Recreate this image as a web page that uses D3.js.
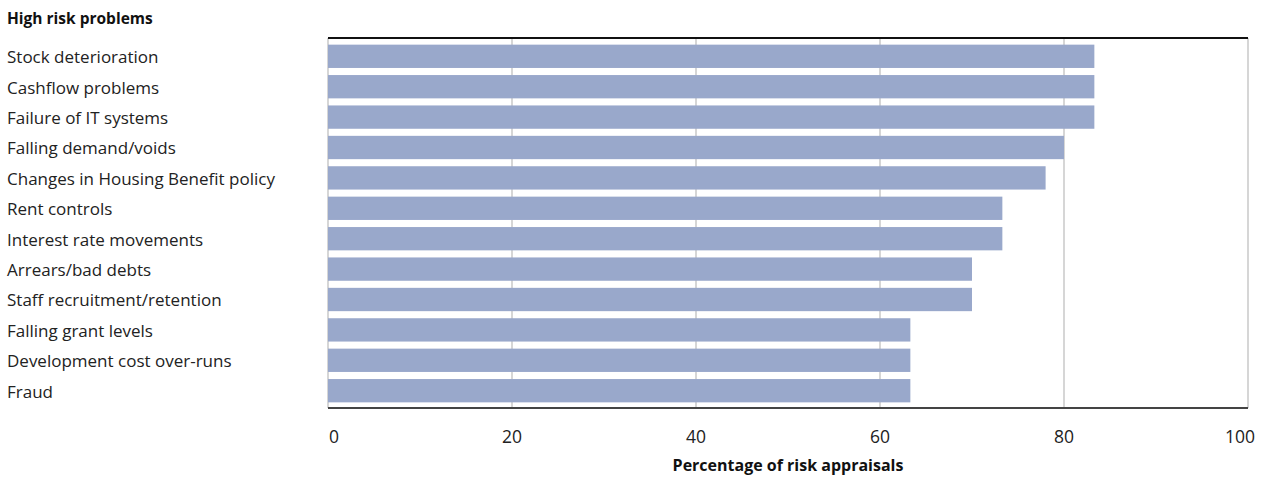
<!DOCTYPE html>
<html>
<head>
<meta charset="utf-8">
<script src="https://cdn.jsdelivr.net/npm/d3@7"></script>
<style>
  html, body { margin: 0; padding: 0; background: #fff; }
  svg { display: block; font-family: "Open Sans", "Noto Sans", sans-serif; }
</style>
</head>
<body>
<svg id="chart" width="1270" height="477"></svg>
<script>
// High risk problems, share of risk appraisals (%)
const categories = [
  "Stock deterioration",
  "Cashflow problems",
  "Failure of IT systems",
  "Falling demand/voids",
  "Changes in Housing Benefit policy",
  "Rent controls",
  "Interest rate movements",
  "Arrears/bad debts",
  "Staff recruitment/retention",
  "Falling grant levels",
  "Development cost over-runs",
  "Fraud"
];
const values = [83.3, 83.3, 83.3, 80, 78, 73.3, 73.3, 70, 70, 63.3, 63.3, 63.3];
const tickValues = [0, 20, 40, 60, 80, 100];
const groupTitle = "High risk problems";
const axisTitle = "Percentage of risk appraisals";

const svg = d3.select("#chart");
const plot = { left: 328, right: 1248, top: 38, bottom: 408 };

const x = d3.scaleLinear().domain([0, 100]).range([plot.left, plot.right]);
const y = d3.scaleBand()
  .domain(categories)
  .range([plot.top + 3, plot.bottom - 2])
  .paddingInner(0.233)
  .paddingOuter(0.12);

// vertical gridlines
svg.append("g")
  .selectAll("line")
  .data(tickValues)
  .join("line")
  .attr("x1", d => x(d)).attr("x2", d => x(d))
  .attr("y1", plot.top).attr("y2", plot.bottom)
  .attr("stroke", "#c8c8c8")
  .attr("stroke-width", 1.5);

// bars
svg.append("g")
  .selectAll("rect")
  .data(categories)
  .join("rect")
  .attr("x", x(0))
  .attr("y", d => y(d))
  .attr("width", (d, i) => x(values[i]) - x(0))
  .attr("height", y.bandwidth())
  .attr("fill", "#99a8cb");

// frame lines
svg.append("line")
  .attr("x1", plot.left).attr("x2", plot.right)
  .attr("y1", plot.top).attr("y2", plot.top)
  .attr("stroke", "#111").attr("stroke-width", 2);
svg.append("line")
  .attr("x1", plot.left).attr("x2", plot.right)
  .attr("y1", plot.bottom).attr("y2", plot.bottom)
  .attr("stroke", "#444").attr("stroke-width", 2);

// category labels
svg.append("g")
  .selectAll("text")
  .data(categories)
  .join("text")
  .attr("x", 7)
  .attr("y", d => y(d) + y.bandwidth() / 2 + 1)
  .attr("dy", "0.35em")
  .attr("font-size", 17)
  .attr("fill", "#222")
  .text(d => d);

svg.append("text")
  .attr("x", 7).attr("y", 24)
  .attr("font-size", 15.5)
  .attr("font-weight", "bold")
  .attr("fill", "#111")
  .text(groupTitle);

// x tick labels
const tickShift = d => d === 0 ? 6 : d === 100 ? -8 : 0;
svg.append("g")
  .selectAll("text")
  .data(tickValues)
  .join("text")
  .attr("x", d => x(d) + tickShift(d))
  .attr("y", 437)
  .attr("dy", "0.35em")
  .attr("text-anchor", "middle")
  .attr("font-size", 17.5)
  .attr("fill", "#222")
  .text(d => d);

svg.append("text")
  .attr("x", (plot.left + plot.right) / 2)
  .attr("y", 471)
  .attr("text-anchor", "middle")
  .attr("font-size", 16)
  .attr("font-weight", "bold")
  .attr("fill", "#111")
  .text(axisTitle);
</script>
</body>
</html>
